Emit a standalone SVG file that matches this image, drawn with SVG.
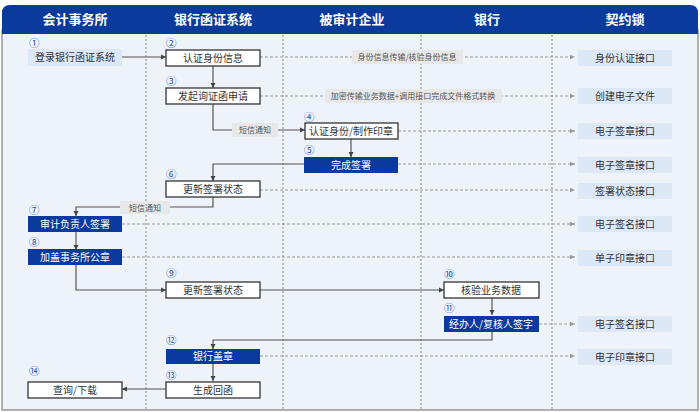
<svg xmlns="http://www.w3.org/2000/svg" width="700" height="412" viewBox="0 0 700 412">
<style>
.hd{font-family:"Noto Sans CJK SC","Noto Sans",sans-serif;font-size:13px;font-weight:bold;fill:#fff;text-anchor:middle}
.t{font-family:"Noto Sans CJK SC","Noto Sans",sans-serif;font-size:10px;fill:#333;text-anchor:middle}
.tw{font-family:"Noto Sans CJK SC","Noto Sans",sans-serif;font-size:10px;fill:#fff;text-anchor:middle}
.lb{font-family:"Noto Sans CJK SC","Noto Sans",sans-serif;font-size:8px;fill:#555;text-anchor:middle}
.n{font-family:"Noto Sans CJK SC","DejaVu Sans",sans-serif;font-size:10.5px;fill:#2a50b0}
.wb{fill:#fff;stroke:#333;stroke-width:1.3}
.db{fill:#0b3a9e}
.lbx{fill:#dde8f7}
.lbg{fill:#e8e8e8}
.sol{fill:none;stroke:#555;stroke-width:1.2}
.das{fill:none;stroke:#9a9a9a;stroke-width:1;stroke-dasharray:3,2}
.div{stroke:#888;stroke-width:1;stroke-dasharray:2,2}
</style>
<defs>
<marker id="as" markerWidth="6" markerHeight="6" refX="5" refY="3" orient="auto" markerUnits="userSpaceOnUse"><path d="M0,0.5 L5,3 L0,5.5 Z" fill="#444"/></marker>
<marker id="ad" markerWidth="6" markerHeight="6" refX="5" refY="3" orient="auto" markerUnits="userSpaceOnUse"><path d="M0,0.8 L5,3 L0,5.2 Z" fill="#999"/></marker>
</defs>
<rect x="0" y="0" width="700" height="412" fill="#fff"/>
<g id="frame">
<rect x="2" y="30" width="696" height="380" fill="#eef3fa" stroke="#999" stroke-width="1.5"/>
<path d="M2,34 V13 Q2,5 10,5 H690 Q698,5 698,13 V34 Z" fill="#0a3b9c"/>
<text class="hd" x="75" y="24">会计事务所</text>
<text class="hd" x="213" y="24">银行函证系统</text>
<text class="hd" x="352" y="24">被审计企业</text>
<text class="hd" x="487" y="24">银行</text>
<text class="hd" x="625" y="24">契约锁</text>
<line class="div" x1="146" y1="35" x2="146" y2="410"/>
<line class="div" x1="283" y1="35" x2="283" y2="410"/>
<line class="div" x1="421" y1="35" x2="421" y2="410"/>
<line class="div" x1="552" y1="35" x2="552" y2="410"/>
</g>
<g id="connectors">
<path class="das" d="M260,57 H575" marker-end="url(#ad)"/>
<path class="das" d="M260,96 H575" marker-end="url(#ad)"/>
<path class="das" d="M398,131 H575" marker-end="url(#ad)"/>
<path class="das" d="M398,164 H575" marker-end="url(#ad)"/>
<path class="das" d="M260,190 H575" marker-end="url(#ad)"/>
<path class="das" d="M122,224 H575" marker-end="url(#ad)"/>
<path class="das" d="M122,257 H575" marker-end="url(#ad)"/>
<path class="das" d="M539,324 H575" marker-end="url(#ad)"/>
<path class="das" d="M260,356 H575" marker-end="url(#ad)"/>
<path class="sol" d="M122,57 H166" marker-end="url(#as)"/>
<path class="sol" d="M213,66 V88" marker-end="url(#as)"/>
<path class="sol" d="M213,104 V130 H305" marker-end="url(#as)"/>
<path class="sol" d="M351,139 V157" marker-end="url(#as)"/>
<path class="sol" d="M304,164 H213 V181" marker-end="url(#as)"/>
<path class="sol" d="M213,197 V207 H76 V216" marker-end="url(#as)"/>
<path class="sol" d="M76,232 V250" marker-end="url(#as)"/>
<path class="sol" d="M76,265 V290 H166" marker-end="url(#as)"/>
<path class="sol" d="M260,290 H444" marker-end="url(#as)"/>
<path class="sol" d="M492,298 V315" marker-end="url(#as)"/>
<path class="sol" d="M492,332 V340 H213 V349" marker-end="url(#as)"/>
<path class="sol" d="M213,364 V381" marker-end="url(#as)"/>
<path class="sol" d="M166,389 H122" marker-end="url(#as)"/>
<rect class="lbg" x="352" y="50" width="111" height="14"/>
<text class="lb" x="407" y="60">身份信息传输/核验身份信息</text>
<rect class="lbg" x="325" y="89" width="177" height="14"/>
<text class="lb" x="413" y="99">加密传输业务数据+调用接口完成文件格式转换</text>
<rect class="lbg" x="232" y="123" width="46" height="14"/>
<text class="lb" x="255" y="133">短信通知</text>
<rect class="lbg" x="120" y="201" width="50" height="13"/>
<text class="lb" x="145" y="210.5">短信通知</text>
</g>
<g id="n1"><text class="n" x="29" y="47">①</text><rect class="lbx" x="28" y="49" width="94" height="17"/><text class="t" x="75" y="61">登录银行函证系统</text></g>
<g id="n2"><text class="n" x="166" y="47">②</text><rect class="wb" x="166" y="50" width="94" height="16"/><text class="t" x="213" y="61.5">认证身份信息</text></g>
<g id="n3"><text class="n" x="166" y="85">③</text><rect class="wb" x="166" y="88" width="94" height="16"/><text class="t" x="213" y="99.5">发起询证函申请</text></g>
<g id="n4"><text class="n" x="304" y="121">④</text><rect class="wb" x="305" y="123" width="93" height="16"/><text class="t" x="351" y="134.5">认证身份/制作印章</text></g>
<g id="n5"><text class="n" x="304" y="154">⑤</text><rect class="db" x="304" y="157" width="94" height="16"/><text class="tw" x="351" y="168.5">完成签署</text></g>
<g id="n6"><text class="n" x="166" y="178">⑥</text><rect class="wb" x="166" y="181" width="94" height="16"/><text class="t" x="213" y="192.5">更新签署状态</text></g>
<g id="n7"><text class="n" x="29" y="214">⑦</text><rect class="db" x="28" y="216" width="94" height="16"/><text class="tw" x="75" y="227.5">审计负责人签署</text></g>
<g id="n8"><text class="n" x="29" y="246">⑧</text><rect class="db" x="28" y="249" width="94" height="16"/><text class="tw" x="75" y="260.5">加盖事务所公章</text></g>
<g id="n9"><text class="n" x="166" y="277">⑨</text><rect class="wb" x="166" y="282" width="94" height="16"/><text class="t" x="213" y="293.5">更新签署状态</text></g>
<g id="n10"><text class="n" x="444" y="278">⑩</text><rect class="wb" x="444" y="282" width="95" height="16"/><text class="t" x="491" y="293.5">核验业务数据</text></g>
<g id="n11"><text class="n" x="444" y="312">⑪</text><rect class="db" x="444" y="316" width="95" height="16"/><text class="tw" x="491" y="327.5">经办人/复核人签字</text></g>
<g id="n12"><text class="n" x="166" y="344">⑫</text><rect class="db" x="166" y="349" width="94" height="15"/><text class="tw" x="213" y="360">银行盖章</text></g>
<g id="n13"><text class="n" x="166" y="379">⑬</text><rect class="wb" x="166" y="382" width="94" height="16"/><text class="t" x="213" y="393.5">生成回函</text></g>
<g id="n14"><text class="n" x="29" y="375">⑭</text><rect class="wb" x="28" y="382" width="94" height="16"/><text class="t" x="75" y="393.5">查询/下载</text></g>
<g id="i1"><rect class="lbx" x="578" y="50" width="94" height="16"/><text class="t" x="625" y="61.5">身份认证接口</text></g>
<g id="i2"><rect class="lbx" x="578" y="88" width="94" height="16"/><text class="t" x="625" y="99.5">创建电子文件</text></g>
<g id="i3"><rect class="lbx" x="578" y="123" width="94" height="16"/><text class="t" x="625" y="134.5">电子签章接口</text></g>
<g id="i4"><rect class="lbx" x="578" y="157" width="94" height="16"/><text class="t" x="625" y="168.5">电子签章接口</text></g>
<g id="i5"><rect class="lbx" x="578" y="183" width="94" height="16"/><text class="t" x="625" y="194.5">签署状态接口</text></g>
<g id="i6"><rect class="lbx" x="578" y="216" width="94" height="16"/><text class="t" x="625" y="227.5">电子签名接口</text></g>
<g id="i7"><rect class="lbx" x="578" y="250" width="94" height="16"/><text class="t" x="625" y="261.5">单子印章接口</text></g>
<g id="i8"><rect class="lbx" x="578" y="316" width="94" height="16"/><text class="t" x="625" y="327.5">电子签名接口</text></g>
<g id="i9"><rect class="lbx" x="578" y="349" width="94" height="16"/><text class="t" x="625" y="360.5">电子印章接口</text></g>
</svg>
